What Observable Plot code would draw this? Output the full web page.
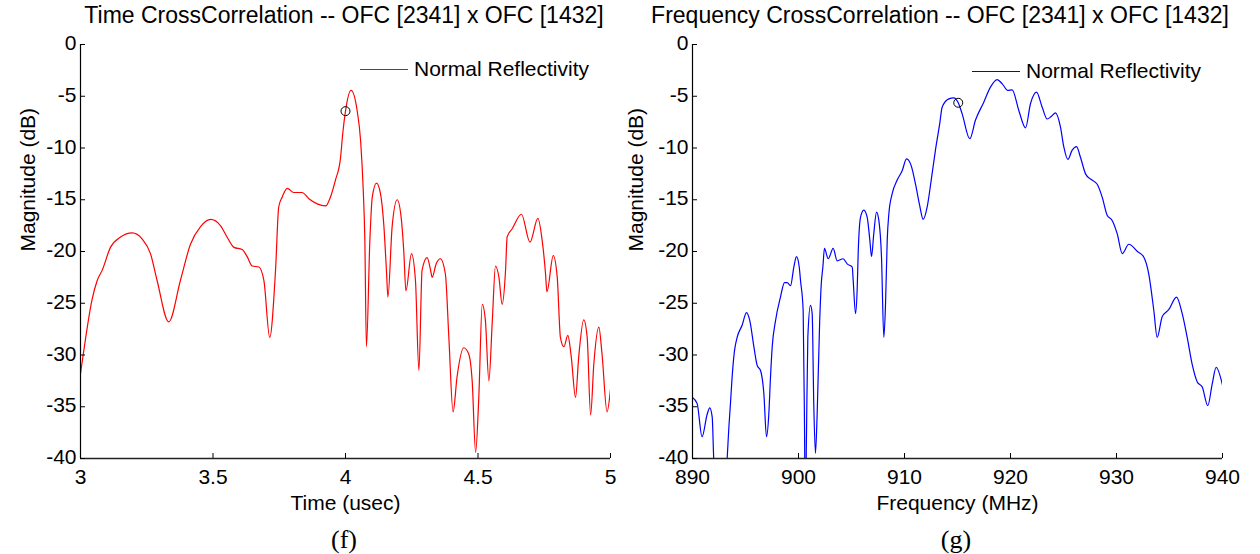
<!DOCTYPE html>
<html><head><meta charset="utf-8">
<script src="https://cdn.jsdelivr.net/npm/d3@7"></script>
<script src="https://cdn.jsdelivr.net/npm/@observablehq/plot@0.6"></script>
<style>
body{margin:0;background:#fff;font-family:"Liberation Sans",Arial,sans-serif;color:#000;}
#wrap{position:relative;width:1260px;height:554px;overflow:hidden;background:#fff;}
.title{position:absolute;top:2px;font-size:23px;line-height:26px;white-space:nowrap;transform:translateX(-50%);}
.cap{position:absolute;top:525px;font-family:"Liberation Serif","Times New Roman",serif;font-size:26px;line-height:30px;transform:translateX(-50%);}
.panel{position:absolute;top:30px;}
.legend{position:absolute;font-size:21px;line-height:24px;display:flex;align-items:center;white-space:nowrap;}
.legend .sw{display:inline-block;width:48px;height:0;border-top:1.3px solid;margin-right:6px;}
</style></head>
<body>
<div id="wrap">
  <div class="title" style="left:344px">Time CrossCorrelation -- OFC [2341] x OFC [1432]</div>
  <div class="title" style="left:940px">Frequency CrossCorrelation -- OFC [2341] x OFC [1432]</div>
  <div class="panel" id="p1" style="left:0px"></div>
  <div class="panel" id="p2" style="left:630px"></div>
  <div class="legend" style="left:360px;top:57px"><span class="sw" style="border-color:#ff0000"></span>Normal Reflectivity</div>
  <div class="legend" style="left:972px;top:59px"><span class="sw" style="border-color:#0000ff"></span>Normal Reflectivity</div>
  <div class="cap" style="left:344px">(f)</div>
  <div class="cap" style="left:956px">(g)</div>
</div>
<script>
// ---- shared axis ticks ----
const yTicks = [0, -5, -10, -15, -20, -25, -30, -35, -40];
const timeTicks = [3, 3.5, 4, 4.5, 5];
const freqTicks = [890, 900, 910, 920, 930, 940];

// ---- (f) time cross-correlation ----
const timeUsec = [3.000,3.010,3.044,3.063,3.082,3.113,3.151,3.195,3.233,3.264,3.289,3.333,3.377,3.415,3.453,3.491,3.528,3.553,3.579,3.610,
3.629,3.648,3.673,3.692,3.714,3.736,3.748,3.761,3.780,3.805,3.836,3.862,3.893,3.925,3.943,3.962,3.981,3.990,4.000,4.021,
4.044,4.057,4.067,4.073,4.079,4.092,4.101,4.117,4.132,4.145,4.155,4.160,4.176,4.195,4.210,4.220,4.228,4.249,4.264,4.277,
4.289,4.308,4.321,4.327,4.342,4.358,4.377,4.390,4.406,4.421,4.446,4.465,4.478,4.491,4.503,4.516,4.528,4.541,4.554,4.566,
4.579,4.591,4.604,4.610,4.629,4.664,4.696,4.726,4.742,4.755,4.760,4.784,4.799,4.811,4.824,4.839,4.852,4.868,4.880,4.899,
4.912,4.925,4.937,4.956,4.968,4.987,5.000];
const timeDb = [-31.8,-30.0,-24.6,-22.8,-21.8,-19.6,-18.6,-18.2,-18.8,-20.2,-22.8,-26.8,-22.8,-19.3,-17.6,-16.9,-17.5,-18.6,-19.6,-19.8,
-20.5,-21.4,-21.5,-22.8,-28.3,-21.8,-15.7,-14.75,-13.9,-14.3,-14.3,-14.9,-15.4,-15.6,-14.75,-13.1,-11.0,-8.5,-6.44,-4.44,
-6.4,-9.3,-14.1,-18.9,-29.2,-18.9,-14.75,-13.4,-14.4,-17.6,-22.1,-24.4,-17.6,-15.0,-16.7,-20.0,-23.8,-20.2,-22.8,-31.5,
-21.8,-20.6,-21.8,-22.5,-21.2,-20.7,-22.2,-28.3,-35.5,-32.1,-29.3,-29.9,-32.5,-39.4,-34.1,-25.1,-26.7,-32.5,-26.7,-21.4,
-22.5,-25.1,-21.8,-18.6,-17.8,-16.4,-19.1,-16.8,-18.9,-22.2,-23.9,-20.4,-22.5,-28.3,-29.2,-28.1,-30.2,-34.1,-30.2,-26.6,
-28.3,-35.8,-30.9,-27.3,-29.9,-35.5,-33.3];
const timeMarkT = [4.0];
const timeMarkDb = [-6.44];

// ---- (g) frequency cross-correlation ----
const freqMHz = [890.0,890.44,890.9,891.39,891.63,891.86,892.0,892.6,893.27,893.43,893.58,893.74,893.96,894.21,894.69,895.09,895.41,895.79,896.1,896.42,
896.73,896.98,897.2,897.36,897.52,897.83,898.3,898.68,898.93,899.25,899.56,899.81,900.07,900.19,900.44,900.57,900.64,900.75,900.88,901.13,
901.29,901.44,901.6,901.76,902.0,902.15,902.3,902.45,902.8,903.27,903.65,904.21,904.59,905.07,905.16,905.38,905.54,905.63,905.85,906.16,
906.48,906.73,906.89,907.1,907.36,907.58,907.83,908.05,908.21,908.37,908.52,908.84,909.31,909.78,910.19,910.63,911.04,911.44,911.76,912.14,
912.52,912.92,913.33,913.55,914.18,914.65,915.07,915.44,916.16,916.7,917.48,918.11,918.74,919.22,919.75,920.16,920.79,921.42,921.89,922.45,
922.99,923.46,923.84,924.25,924.72,925.03,925.41,925.82,926.23,926.6,927.08,927.55,928.18,928.65,929.12,929.59,930.07,930.54,931.16,931.95,
932.58,933.05,933.52,933.84,934.31,934.94,935.66,936.2,936.67,937.14,937.62,938.09,938.61,939.03,939.4,940.0];
const freqDb = [-34.1,-34.7,-37.9,-35.7,-35.1,-36.0,-40.0,-47.0,-40.0,-37.0,-34.7,-32.1,-29.6,-28.3,-27.1,-25.9,-26.7,-29.2,-31.0,-31.5,
-33.7,-37.9,-35.7,-32.1,-29.2,-26.7,-24.4,-23.0,-23.0,-23.3,-21.5,-20.5,-21.5,-22.8,-25.7,-37.3,-46.0,-38.0,-28.3,-25.2,
-26.0,-34.7,-39.5,-35.7,-26.7,-23.1,-21.5,-19.7,-20.7,-19.7,-20.9,-20.7,-21.2,-21.5,-22.8,-26.0,-23.5,-20.2,-16.7,-16.0,
-16.7,-18.9,-20.5,-18.3,-16.2,-17.0,-20.55,-28.3,-25.1,-18.9,-16.4,-14.4,-13.1,-12.2,-11.05,-11.7,-13.5,-15.6,-16.9,-15.7,
-13.1,-10.2,-7.6,-6.06,-5.25,-5.15,-5.63,-6.7,-9.1,-7.3,-5.57,-4.12,-3.4,-3.8,-4.44,-4.38,-6.4,-8.05,-5.7,-4.6,
-6.06,-7.2,-6.96,-6.6,-8.0,-9.9,-11.1,-10.2,-9.86,-10.9,-12.5,-13.0,-13.5,-14.75,-16.5,-17.0,-18.3,-20.2,-19.3,-19.97,
-20.55,-22.2,-25.7,-28.3,-26.3,-25.6,-24.4,-26.0,-28.3,-30.9,-32.6,-33.1,-34.9,-32.8,-31.2,-32.9];
const freqMarkF = [915.07];
const freqMarkDb = [-5.63];

const FONT = "Liberation Sans, Arial, sans-serif";

function panel({xs, ys, mx, my, color, xDomain, xTicks, xLabel, ml, mr, ylabDx}) {
  const data = xs.map((x, i) => ({x, y: ys[i]}));
  const marker = mx.map((x, i) => ({x, y: my[i]}));
  return Plot.plot({
    width: 630, height: 490,
    marginLeft: ml, marginRight: mr, marginTop: 14, marginBottom: 62,
    style: {fontFamily: FONT, fontSize: "21px", color: "#000", background: "transparent", overflow: "visible"},
    x: {domain: xDomain},
    y: {domain: [-40, 0]},
    marks: [
      Plot.line(data, {x: "x", y: "y", stroke: color, strokeWidth: 1.2, clip: true, curve: "monotone-x"}),
      Plot.dot(marker, {x: "x", y: "y", r: 4.5, stroke: "#000", strokeWidth: 1, fill: "none"}),
      Plot.ruleX([xDomain[0]], {stroke: "#000", strokeWidth: 1.2}),
      Plot.ruleY([-40], {stroke: "#222", strokeWidth: 1.4}),
      Plot.axisY(yTicks, {tickSize: 0, tickPadding: 4, dy: -1, fontSize: 21, tickFormat: d => String(d), label: null}),
      Plot.axisY(yTicks, {tickSize: 5, dx: 5, tickFormat: () => "", label: null}),
      Plot.axisX(xTicks, {tickSize: 0, tickPadding: 11, fontSize: 21, tickFormat: d => String(d), label: null}),
      Plot.axisX(xTicks, {tickSize: 5, dy: -5, tickFormat: () => "", label: null}),
      Plot.text([xLabel], {frameAnchor: "bottom", dy: 45, text: d => d, lineAnchor: "middle", fontSize: 21}),
      Plot.text(["Magnitude (dB)"], {frameAnchor: "left", dx: ylabDx, rotate: -90, text: d => d, lineAnchor: "middle", fontSize: 21})
    ]
  });
}

document.getElementById("p1").append(panel({
  xs: timeUsec, ys: timeDb, mx: timeMarkT, my: timeMarkDb, color: "#ff0000",
  xDomain: [3, 5], xTicks: timeTicks, xLabel: "Time (usec)", ml: 80, mr: 20, ylabDx: -52
}));
document.getElementById("p2").append(panel({
  xs: freqMHz, ys: freqDb, mx: freqMarkF, my: freqMarkDb, color: "#0000ff",
  xDomain: [890, 940], xTicks: freqTicks, xLabel: "Frequency (MHz)", ml: 62, mr: 38, ylabDx: -56
}));
</script>
</body></html>
